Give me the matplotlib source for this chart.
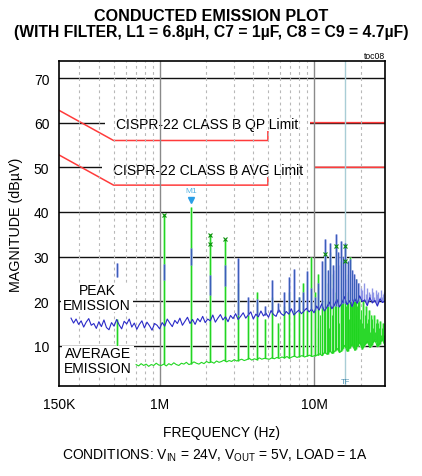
import numpy as np
import matplotlib
matplotlib.use("Agg")
import matplotlib.pyplot as plt
from matplotlib.path import Path

plt.rcParams['font.family'] = ['Liberation Sans', 'DejaVu Sans']

# ============================
# DATA (frequencies in MHz, levels in dBuV)
# ============================
limit_freq = [0.15, 0.5, 5.0, 5.0, 30.0]
qp_limit = [66, 56, 56, 60, 60]
avg_limit = [56, 46, 46, 50, 50]

# peak emission sweep (noise floor)
peak_db = [16.2, 15.1, 16.0, 14.8, 15.6, 14.2, 15.3, 16.1, 14.6, 15.0,
           13.9, 15.4, 14.3, 15.8, 14.1, 13.6, 15.2, 14.4, 15.9, 14.7,
           13.8, 15.5, 14.9, 16.0, 14.2, 15.1, 13.7, 14.8, 15.6, 14.0,
           15.3, 14.5, 13.5, 15.0, 14.6,
           13.8, 15.2, 14.4, 16.0, 15.1, 14.3, 15.7, 15.0, 16.2, 14.6,
           15.5, 16.4, 15.0, 15.9, 14.8, 16.1, 15.4, 16.6, 15.2, 16.0,
           15.6, 16.9, 15.3, 16.2, 17.0, 15.8, 16.5, 15.4, 16.8, 16.1,
           17.2, 15.9, 16.6, 17.4, 16.2, 16.9, 17.6, 16.0, 17.1, 16.5,
           17.8, 16.7,
           17.3, 16.4, 17.9, 17.0, 16.6, 18.1, 17.2, 16.8, 17.7, 17.1,
           18.3, 16.9, 17.5, 18.0, 17.2, 17.8, 18.4, 17.6,
           18.2, 17.4, 18.9, 18.0, 19.4, 17.8, 18.6, 19.8, 18.3, 19.1,
           20.4, 18.7, 19.6, 21.0, 19.2, 20.1, 18.8, 20.6, 19.5, 21.2,
           19.9, 20.3, 19.0, 20.8, 19.6, 20.2, 18.9, 20.5, 19.7, 20.1]
peak_start, peak_stop = 0.265, 28.7

# average emission sweep (noise floor)
avg_db = [5.8, 5.5, 6.0, 5.6, 5.9, 5.4, 5.8, 5.6, 6.1, 5.7,
          5.6, 5.9, 5.5, 6.0, 5.7, 6.2, 5.8, 5.6, 6.1, 5.9,
          6.3, 5.8, 6.0, 6.4, 6.1, 5.9, 6.3, 6.0, 6.5, 6.2,
          6.4, 6.1, 6.6, 6.3, 6.5, 6.8, 6.4, 6.7, 6.5, 6.9,
          6.6, 6.8, 7.0, 6.7, 6.9, 7.2, 6.8, 7.1, 6.9, 7.3,
          7.0, 7.2, 7.1,
          7.0, 7.3, 7.1, 7.4, 7.2, 7.5, 7.3, 7.6, 7.2, 7.5,
          7.7, 7.4, 7.6, 7.8, 7.5, 7.7, 7.9, 7.6, 7.8,
          7.9, 8.2, 7.8, 8.6, 8.1, 9.0, 8.3, 8.8, 9.4, 8.5,
          9.2, 10.1, 8.8, 9.6, 10.4, 9.0, 9.9, 10.8, 9.3, 10.2,
          11.0, 9.6, 10.5, 11.3, 9.8, 10.6, 11.5, 10.0]
avg_start, avg_stop = 0.7, 28.7

# switching harmonics (f0 = 530kHz)
f_sw = 0.53
harm_n = list(range(1, 37))
harm_avg = [16, 39.5, 41, 35, 34, 24, 17, 22, 16, 21,
            15, 19, 22, 18, 21, 24, 18, 30, 22, 26,
            20, 30.5, 24, 31, 26, 32.5, 27, 29, 25, 32.3,
            26, 30, 24, 22, 25, 20]
harm_peak_lo = [25.5, 24.7, 28, 21.3, 23.5, 17, 17, 17, 17, 17.5,
                17.5, 17.5, 17.5, 17.5, 17.5, 18, 18, 18, 18, 18.5,
                18.5, 18.5, 19, 19, 19, 19, 19, 19.5, 19.5, 19.5,
                19.5, 20, 20, 20, 20, 20]
harm_peak_hi = [28.5, 28.4, 32, 25.8, 28, 29.7, 21, 20.6, 19, 24.7,
                19.5, 22, 25.5, 27.3, 21, 22, 26.7, 23, 21, 24,
                29, 34, 27, 33, 28, 35, 31, 33.5, 30, 33,
                29, 29.5, 27, 26, 25, 24]

# dense average-detector content above 10MHz
grass_freq = [10.6, 10.9, 11.2, 11.5, 11.8, 12.1, 12.4, 12.7, 13.0, 13.3,
              13.6, 13.9, 14.2, 14.5, 14.8, 15.1, 15.4, 15.7, 16.0, 16.3,
              16.6, 16.9, 17.2, 17.5, 17.8, 18.1, 18.4, 18.7, 19.0, 19.3,
              19.6, 19.9, 20.2, 20.5, 20.8, 21.1, 21.4, 21.7, 22.0, 22.3,
              22.6, 22.9, 23.2, 23.5, 23.8, 24.1, 24.4, 24.7, 25.0, 25.3,
              25.6, 25.9, 26.2, 26.5, 26.8, 27.1, 27.4, 27.7, 28.0, 28.3]
grass_top = [14, 17, 13, 18, 15, 20, 14, 21, 17, 16,
             22, 18, 24, 15, 20, 23, 17, 25, 19, 22,
             21, 16, 23, 18, 20, 15, 22, 17, 19, 14,
             21, 16, 18, 15, 20, 14, 17, 19, 15, 16,
             18, 13, 17, 15, 16, 14, 17, 13, 15, 16,
             12.5, 15, 14, 13, 15.5, 12.5, 14, 13, 15, 12.5]

# small peak-detector spikes above 12MHz
pgrass_freq = [12.2, 12.6, 13.1, 13.5, 14.0, 14.4, 14.9, 15.3, 16.1, 16.6,
               17.0, 17.5, 18.0, 18.6, 19.1, 19.5, 20.0, 20.5, 21.0, 21.5,
               22.0, 22.5, 23.0, 23.5, 24.0, 24.5, 25.0, 25.5, 26.0, 26.5,
               27.0, 27.5, 28.0, 28.4]
pgrass_top = [24, 26, 23, 27, 25, 28, 24, 26, 25, 27,
              24, 26, 23, 25, 22, 24, 23, 22.5, 24, 21.5,
              23, 22, 21.5, 23, 22, 21, 22.5, 21.5, 22, 21,
              22.5, 21, 21.5, 22]

# measurement markers
mark_freq = [1.06, 2.12, 2.12, 2.65, 11.66, 13.78, 15.9, 15.9]
mark_db = [39.3, 34.8, 32.8, 34.0, 30.6, 32.4, 32.3, 29.0]
m1_freq, m1_db = 1.59, 42.6
tf_freq = 15.9

x_ticks = [0.2215, 1.0, 10.0]
x_labels = ["150K", "1M", "10M"]
x_minor = [0.3, 0.4, 0.5, 0.6, 0.7, 0.8, 0.9,
           2, 3, 4, 5, 6, 7, 8, 9, 20]
y_ticks = [10, 20, 30, 40, 50, 60, 70]

# ============================
# DRAW
# ============================
MHZ = 1e6
fig = plt.figure(figsize=(4.22, 4.77), dpi=100)
ax = fig.add_axes([0.1398, 0.1887, 0.7725, 0.6803])
ax.set_xscale("log")
ax.set_xlim(0.2215 * MHZ, 28.7 * MHZ)
ax.set_ylim(1.0, 73.7)

# grid: horizontal black lines under the label boxes, vertical lines over
for v in y_ticks:
    ax.axhline(v, color="#111111", lw=1.0, zorder=1.5)
for f in x_minor:
    ax.axvline(f * MHZ, color="#b8b8b8", lw=0.8, ls=(0, (2.5, 3)), zorder=2.5)
for f in [1.0, 10.0]:
    ax.axvline(f * MHZ, color="#8a8a8a", lw=1.0, zorder=2.5)
ax.axvline(tf_freq * MHZ, color="#a9cdd6", lw=1.0, zorder=2.6)

# limit lines
lf = np.array(limit_freq) * MHZ
ax.plot(lf, qp_limit, color="#ff3b3b", lw=1.1, zorder=1.6)
ax.plot(lf, avg_limit, color="#ff3b3b", lw=1.1, zorder=1.6)

# sweeps
peak_f = np.geomspace(peak_start, peak_stop, len(peak_db))
avg_f = np.geomspace(avg_start, avg_stop, len(avg_db))
harm_f = np.array(harm_n) * f_sw
avg_base = np.interp(np.log10(harm_f), np.log10(avg_f), avg_db)
grass_base = np.interp(np.log10(grass_freq), np.log10(avg_f), avg_db)
pgrass_base = np.interp(np.log10(pgrass_freq), np.log10(peak_f), peak_db)

ax.vlines(np.array(grass_freq) * MHZ, grass_base, grass_top,
          color="#9ff09f", lw=2.2, zorder=3)
ax.vlines(np.array(grass_freq) * MHZ, grass_base, grass_top,
          color="#28d828", lw=0.7, zorder=3.1)
ax.vlines(harm_f * MHZ, avg_base, harm_avg, color="#a8f2a8", lw=2.0, zorder=3)
ax.vlines(harm_f * MHZ, avg_base, harm_avg, color="#1fd41f", lw=0.7, zorder=3.1)
ax.plot(avg_f * MHZ, avg_db, color="#22d622", lw=0.8, zorder=3.2)

ax.vlines(np.array(pgrass_freq) * MHZ, pgrass_base, pgrass_top,
          color="#8f96e6", lw=1.0, zorder=3.3)
ax.plot(peak_f * MHZ, peak_db, color="#2a2ac8", lw=0.8, zorder=3.4)
ax.vlines(harm_f * MHZ, harm_peak_lo, harm_peak_hi,
          color="#aab0ee", lw=1.8, zorder=3.3)
ax.vlines(harm_f * MHZ, harm_peak_lo, harm_peak_hi,
          color="#3b5fb8", lw=0.8, zorder=3.5)

# markers
ax.plot(np.array(mark_freq) * MHZ, mark_db, "x", color="#0b8f0b",
        ms=3, mew=0.8, zorder=4)
ax.plot(m1_freq * MHZ, m1_db, "v", color="#2a9ee6", ms=5, zorder=4)
ax.text(m1_freq * MHZ, m1_db + 2.3, "M1", color="#55b3e3", fontsize=6,
        ha="center", va="center", zorder=4)
ax.text(tf_freq * MHZ, 2.1, "TF", color="#4a8fb0", fontsize=5.5,
        ha="center", va="center", zorder=4)


def wide_box(padx, pady):
    def box(x0, y0, width, height, mutation_size):
        px, py = padx * mutation_size, pady * mutation_size
        x0, y0 = x0 - px, y0 - py
        x1, y1 = x0 + width + 2 * px, y0 + height + 2 * py
        return Path([(x0, y0), (x1, y0), (x1, y1), (x0, y1), (x0, y0)],
                    closed=True)
    return box


# limit labels
ax.text(2.03 * MHZ, 59.6, "CISPR-22 CLASS B QP Limit", fontsize=10,
        ha="center", va="center", zorder=2,
        bbox=dict(boxstyle=wide_box(0.8, 0.0), fc="white", ec="none"))
ax.text(2.05 * MHZ, 49.5, "CISPR-22 CLASS B AVG Limit", fontsize=10,
        ha="center", va="center", zorder=2,
        bbox=dict(boxstyle=wide_box(0.8, 0.0), fc="white", ec="none"))

# trace labels
ax.text(0.391 * MHZ, 20.8, "PEAK\nEMISSION", fontsize=10, linespacing=1.1,
        ha="center", va="center", zorder=5,
        bbox=dict(boxstyle=wide_box(0.15, 0.0), fc="white", ec="none"))
ax.text(0.396 * MHZ, 6.75, "AVERAGE\nEMISSION", fontsize=10, linespacing=1.1,
        ha="center", va="center", zorder=5,
        bbox=dict(boxstyle=wide_box(0.15, 0.0), fc="white", ec="none"))

# axes styling
ax.set_xticks(np.array(x_ticks) * MHZ)
ax.set_xticklabels(x_labels)
ax.set_xticks([], minor=True)
ax.set_yticks(y_ticks)
ax.tick_params(length=0, labelsize=10)
ax.tick_params(axis="x", pad=8)
ax.tick_params(axis="y", pad=7)
for s in ax.spines.values():
    s.set_linewidth(1.2)
    s.set_zorder(6)

ax.set_xlabel("FREQUENCY (Hz)", fontsize=10, labelpad=10)
ax.set_ylabel("MAGNITUDE (dB\u00b5V)", fontsize=10.3, labelpad=8)

fig.text(0.5, 0.9658, "CONDUCTED EMISSION PLOT", fontsize=11.6,
         fontweight="bold", ha="center", va="center")
fig.text(0.5, 0.9319, "(WITH FILTER, L1 = 6.8\u00b5H, C7 = 1\u00b5F, C8 = C9 = 4.7\u00b5F)",
         fontsize=11.3, fontweight="bold", ha="center", va="center")
fig.text(0.9123, 0.882, "toc08", fontsize=6.2, ha="right", va="center")
fig.text(0.509, 0.045,
         r"CONDITIONS: V$_{\mathregular{IN}}$ = 24V, V$_{\mathregular{OUT}}$ = 5V, LOAD = 1A",
         fontsize=10, ha="center", va="center")

fig.savefig("out.png", dpi=100)
